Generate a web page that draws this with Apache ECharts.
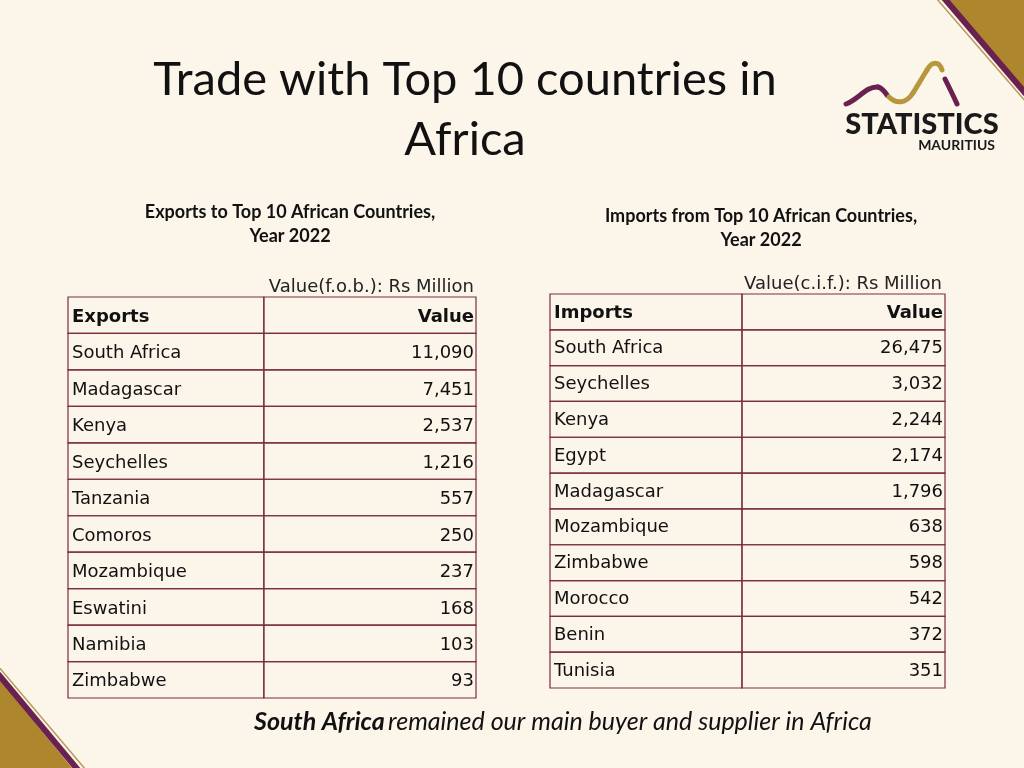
<!DOCTYPE html>
<html><head><meta charset="utf-8">
<script src="https://cdn.jsdelivr.net/npm/echarts@6/dist/echarts.min.js"></script>
<style>html,body{margin:0;padding:0;background:#FBF5EA;}#c{width:1024px;height:768px;}</style>
</head><body><div id="c"></div>
<script>
const exportCountries = ['South Africa','Madagascar','Kenya','Seychelles','Tanzania','Comoros','Mozambique','Eswatini','Namibia','Zimbabwe'];
const exportValues = [11090, 7451, 2537, 1216, 557, 250, 237, 168, 103, 93];
const importCountries = ['South Africa','Seychelles','Kenya','Egypt','Madagascar','Mozambique','Zimbabwe','Morocco','Benin','Tunisia'];
const importValues = [26475, 3032, 2244, 2174, 1796, 638, 598, 542, 372, 351];
const exportHeader = ['Exports','Value'];
const importHeader = ['Imports','Value'];

const BORDER = '#7A2E3E';
const CELLFONT = 'DejaVu Sans, Verdana, sans-serif';
const PURPLE = '#6A2150';
const GOLDL = '#B8963E';
const SANS = 'Lato, Open Sans, sans-serif';

function fmt(v){ return v.toLocaleString('en-US'); }

function tableData(header, names, vals){
  const rows = [{value:[0,0], name: header[0], v: header[1], head:true}];
  names.forEach((n,i)=>rows.push({value:[0,i+1], name:n, v:fmt(vals[i]), head:false}));
  return rows;
}

function makeRender(rows, split, textDy){
  return function(params, api){
    const r = rows[params.dataIndex];
    const c = api.coord([0, api.value(1)]);
    const h = api.size([0,1])[1];
    const right = api.coord([1, api.value(1)])[0];
    const x0 = c[0], y0 = c[1]-h/2;
    const xs = x0 + (right-x0)*split;
    const fw = r.head ? 'bold' : 'normal';
    return {type:'group', children:[
      {type:'rect', shape:{x:x0, y:y0, width:xs-x0, height:h}, style:{fill:'none', stroke:BORDER, lineWidth:1.2}},
      {type:'rect', shape:{x:xs, y:y0, width:right-xs, height:h}, style:{fill:'none', stroke:BORDER, lineWidth:1.2}},
      {type:'text', style:{text:r.name, x:x0+4, y:c[1]+textDy, align:'left', verticalAlign:'middle', fill:'#111', fontSize:18, fontFamily:CELLFONT, fontWeight:fw}},
      {type:'text', style:{text:r.v, x:right-2, y:c[1]+textDy, align:'right', verticalAlign:'middle', fill:'#111', fontSize:18, fontFamily:CELLFONT, fontWeight:fw}}
    ]};
  };
}

const expRows = tableData(exportHeader, exportCountries, exportValues);
const impRows = tableData(importHeader, importCountries, importValues);
const cats = n => Array.from({length:n},(_,i)=>i);

function curve(x1,y1,cx1,cy1,cx2,cy2,x2,y2,color){
  return {type:'bezierCurve', shape:{x1:x1,y1:y1,cpx1:cx1,cpy1:cy1,cpx2:cx2,cpy2:cy2,x2:x2,y2:y2}, style:{fill:null, stroke:color, lineWidth:5, lineCap:'round'}};
}

const chart = echarts.init(document.getElementById('c'), null, {renderer:'canvas'});
const option = {
  backgroundColor:'#FBF5EA',
  animation:false,
  grid:[
    {left:68, top:297, width:408, height:401},
    {left:550, top:294, width:395, height:394}
  ],
  xAxis:[
    {gridIndex:0, type:'value', min:0, max:1, show:false},
    {gridIndex:1, type:'value', min:0, max:1, show:false}
  ],
  yAxis:[
    {gridIndex:0, type:'category', data:cats(11), inverse:true, show:false},
    {gridIndex:1, type:'category', data:cats(11), inverse:true, show:false}
  ],
  series:[
    {type:'custom', xAxisIndex:0, yAxisIndex:0, data:expRows.map(r=>r.value), encode:{x:0,y:1}, renderItem:makeRender(expRows, 0.48, 2), silent:true},
    {type:'custom', xAxisIndex:1, yAxisIndex:1, data:impRows.map(r=>r.value), encode:{x:0,y:1}, renderItem:makeRender(impRows, 0.486, 1), silent:true}
  ],
  graphic:[
    // corner decorations
    {type:'polygon', shape:{points:[[944,0],[1024,0],[1024,92]]}, style:{fill:'#AE862E'}},
    {type:'line', shape:{x1:944,y1:-2,x2:1026,y2:94}, style:{stroke:PURPLE, lineWidth:6}},
    {type:'line', shape:{x1:936,y1:-2,x2:1026,y2:102}, style:{stroke:'#B8995A', lineWidth:1.5}},
    {type:'polygon', shape:{points:[[0,680],[0,768],[72,768]]}, style:{fill:'#AE862E'}},
    {type:'line', shape:{x1:-2,y1:674,x2:78,y2:770}, style:{stroke:PURPLE, lineWidth:6}},
    {type:'line', shape:{x1:-2,y1:666,x2:86,y2:770}, style:{stroke:'#B8995A', lineWidth:1.5}},
    // logo
    curve(846,104, 858,100, 866,86, 878,87, PURPLE),
    curve(878,87, 882,88, 885,92, 887,95, PURPLE),
    curve(889,97, 896,104, 906,104, 913,93, GOLDL),
    curve(913,93, 918,85, 922,78, 927,70, GOLDL),
    curve(927,70, 932,61, 939,61, 942,70, GOLDL),
    curve(945,79, 949,87, 953,95, 957,104, PURPLE),
    {type:'text', style:{text:'STATISTICS', x:922, y:125, align:'center', verticalAlign:'middle', fill:'#1a1a1a', fontSize:29, fontWeight:900, fontFamily:SANS}},
    {type:'text', style:{text:'MAURITIUS', x:995, y:145, align:'right', verticalAlign:'middle', fill:'#1a1a1a', fontSize:14, fontWeight:'bold', fontFamily:SANS}},
    // titles
    {type:'text', style:{text:'Trade with Top 10 countries in', x:465, y:80, align:'center', verticalAlign:'middle', fill:'#111', fontSize:47, fontFamily:SANS}},
    {type:'text', style:{text:'Africa', x:465, y:140, align:'center', verticalAlign:'middle', fill:'#111', fontSize:47, fontFamily:SANS}},
    {type:'text', style:{text:'Exports to Top 10 African Countries,', x:290, y:212, align:'center', verticalAlign:'middle', fill:'#111', fontSize:18, fontWeight:'bold', fontFamily:SANS}},
    {type:'text', style:{text:'Year 2022', x:290, y:236, align:'center', verticalAlign:'middle', fill:'#111', fontSize:18, fontWeight:'bold', fontFamily:SANS}},
    {type:'text', style:{text:'Imports from Top 10 African Countries,', x:761, y:216, align:'center', verticalAlign:'middle', fill:'#111', fontSize:18, fontWeight:'bold', fontFamily:SANS}},
    {type:'text', style:{text:'Year 2022', x:761, y:240, align:'center', verticalAlign:'middle', fill:'#111', fontSize:18, fontWeight:'bold', fontFamily:SANS}},
    {type:'text', style:{text:'Value(f.o.b.): Rs Million', x:474, y:287, align:'right', verticalAlign:'middle', fill:'#222', fontSize:18, fontFamily:CELLFONT}},
    {type:'text', style:{text:'Value(c.i.f.): Rs Million', x:942, y:284, align:'right', verticalAlign:'middle', fill:'#222', fontSize:18, fontFamily:CELLFONT}},
    {type:'text', style:{text:'{b|South Africa} {i|remained our main buyer and supplier in Africa}', x:563, y:722, align:'center', verticalAlign:'middle',
      rich:{b:{fontSize:25, fontWeight:'bold', fontStyle:'italic', fontFamily:SANS, fill:'#111'}, i:{fontSize:25, fontStyle:'italic', fontFamily:SANS, fill:'#111'}}}}
  ]
};
chart.setOption(option);
</script></body></html>
